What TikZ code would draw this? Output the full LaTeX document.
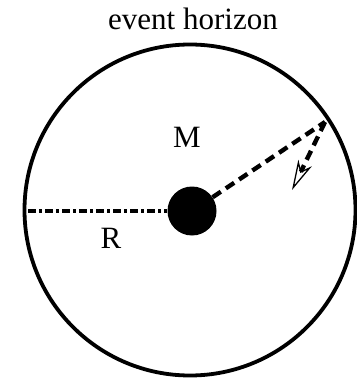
\documentclass[tikz,border=0pt]{standalone}
\usepackage{fontspec}
\setmainfont{Liberation Serif}
\usetikzlibrary{arrows.meta}
\begin{document}
\begin{tikzpicture}[x=1pt,y=-1pt]
\tikzset{
  lbl/.style={font=\fontsize{31}{36}\selectfont,inner sep=0pt},
  thick line/.style={line width=3.8pt},
  dash line/.style={line width=4.4pt,dash pattern=on 10pt off 6pt},
}
\useasboundingbox (0,0) rectangle (356,379);
\node[draw,circle,thick line,minimum size=331pt,inner sep=0pt] (horizon) at (190,210) {};
\node[circle,fill=black,minimum size=49pt,inner sep=0pt] (hole) at (192,211) {};
\coordinate (edge) at (325,122);
\coordinate (tip) at (292,190);
\coordinate (rim) at (28,211);
\node[lbl,anchor=base] (title) at (193,30) {event horizon};
\node[lbl] (mass) at (187,137) {M};
\node[lbl] (radius) at (111,238) {R};
\draw[line width=3.4pt,dash pattern=on 8pt off 3pt on 3pt off 3pt] (rim) -- (hole.west);
\draw[dash line] (hole) -- (edge);
\draw[dash line,-{Stealth[open,length=30pt,width=15pt,inset=9pt,line width=1.3pt]}] (edge) -- (tip);
\end{tikzpicture}
\end{document}
